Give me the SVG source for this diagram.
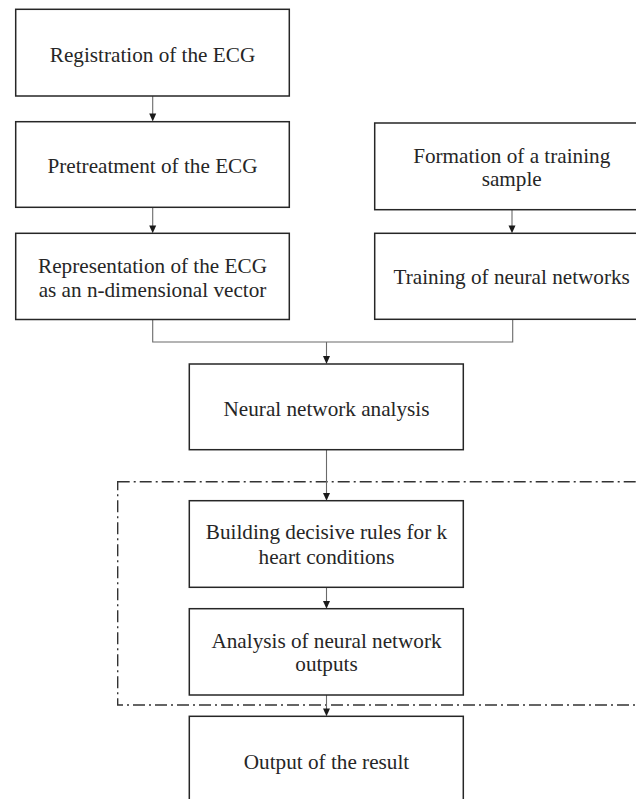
<svg xmlns="http://www.w3.org/2000/svg" width="636" height="799" viewBox="0 0 636 799">
<style>
.box{fill:#fff;stroke:#262626;stroke-width:1.5}
.t{font-family:"Liberation Serif","Times New Roman",serif;font-size:21.2px;fill:#262626;text-anchor:middle}
.c{fill:none;stroke:#6a6a6a;stroke-width:1.1}
.ah{fill:#1a1a1a}
.dd{fill:none;stroke:#333;stroke-width:1.4;stroke-dasharray:12 4 2 4}
</style>
<rect width="636" height="799" fill="#fff"/>
<g id="group-boundary">
<rect class="dd" x="117.7" y="481.7" width="540" height="223.3"/>
</g>
<g id="connectors">
<line class="c" x1="152.7" y1="96" x2="152.7" y2="114"/>
<path class="ah" d="M149.2 113.5 L156.2 113.5 L152.7 121.5 Z"/>
<line class="c" x1="152.7" y1="207.3" x2="152.7" y2="226"/>
<path class="ah" d="M149.2 225.5 L156.2 225.5 L152.7 233.3 Z"/>
<line class="c" x1="512" y1="209.7" x2="512" y2="226"/>
<path class="ah" d="M508.5 225.5 L515.5 225.5 L512 233.3 Z"/>
<polyline class="c" points="152.7,319.5 152.7,342 512.7,342 512.7,319.2"/>
<line class="c" x1="326.5" y1="342" x2="326.5" y2="357"/>
<path class="ah" d="M323 356 L330 356 L326.5 364 Z"/>
<line class="c" x1="326.5" y1="449.7" x2="326.5" y2="494"/>
<path class="ah" d="M323 493 L330 493 L326.5 500.7 Z"/>
<line class="c" x1="326.5" y1="587.3" x2="326.5" y2="602"/>
<path class="ah" d="M323 601 L330 601 L326.5 608.7 Z"/>
<line class="c" x1="326.5" y1="695" x2="326.5" y2="709"/>
<path class="ah" d="M323 708.5 L330 708.5 L326.5 716.3 Z"/>
</g>
<g id="registration">
<rect class="box" x="15.7" y="9.3" width="273.6" height="86.7"/>
<text class="t" x="152.5" y="62.3">Registration of the ECG</text>
</g>
<g id="pretreatment">
<rect class="box" x="15.7" y="121.7" width="273.6" height="85.6"/>
<text class="t" x="152.5" y="173.3">Pretreatment of the ECG</text>
</g>
<g id="representation">
<rect class="box" x="15.7" y="233.3" width="273.6" height="86.2"/>
<text class="t" x="152.5" y="272.5">Representation of the ECG</text>
<text class="t" x="152.5" y="296.7">as an n-dimensional vector</text>
</g>
<g id="formation">
<rect class="box" x="374.7" y="123" width="274" height="86.7"/>
<text class="t" x="511.7" y="162.5">Formation of a training</text>
<text class="t" x="511.7" y="186">sample</text>
</g>
<g id="training">
<rect class="box" x="374.7" y="233.3" width="274" height="86"/>
<text class="t" x="511.7" y="283.5">Training of neural networks</text>
</g>
<g id="nn-analysis">
<rect class="box" x="189.3" y="364" width="274" height="85.7"/>
<text class="t" x="326.5" y="416">Neural network analysis</text>
</g>
<g id="decisive-rules">
<rect class="box" x="189.3" y="500.7" width="274" height="86.6"/>
<text class="t" x="326.5" y="539.3">Building decisive rules for k</text>
<text class="t" x="326.5" y="564">heart conditions</text>
</g>
<g id="outputs-analysis">
<rect class="box" x="189.3" y="608.7" width="274" height="86.3"/>
<text class="t" x="326.5" y="647.5">Analysis of neural network</text>
<text class="t" x="326.5" y="671">outputs</text>
</g>
<g id="output-result">
<rect class="box" x="189.3" y="716.3" width="274" height="100"/>
<text class="t" x="326.5" y="768.7">Output of the result</text>
</g>
</svg>
